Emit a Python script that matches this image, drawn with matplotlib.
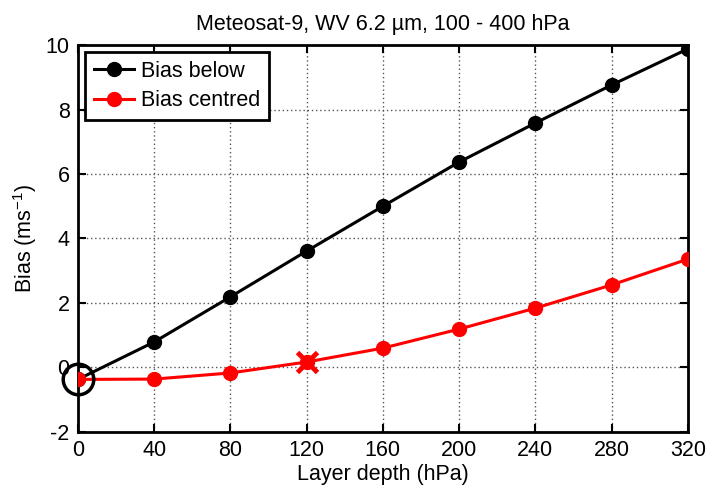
import matplotlib
matplotlib.use("Agg")
import matplotlib.pyplot as plt

plt.rcParams['font.family'] = ['Liberation Sans', 'DejaVu Sans']
plt.rcParams['mathtext.fontset'] = 'custom'
plt.rcParams['mathtext.rm'] = 'Liberation Sans'
plt.rcParams['axes.unicode_minus'] = False

# layer depth (hPa) and wind bias (m/s)
depth = [0, 40, 80, 120, 160, 200, 240, 280, 320]
bias_below = [-0.37, 0.79, 2.19, 3.61, 5.0, 6.37, 7.58, 8.76, 9.88]
bias_centred = [-0.37, -0.36, -0.17, 0.17, 0.6, 1.19, 1.84, 2.56, 3.36]
best_idx = 3  # centred layer of 120 hPa marked with a cross

fs = 15.5

fig = plt.figure(figsize=(7.21, 4.92), dpi=100)
ax = fig.add_axes([0.108, 0.122, 0.846, 0.7865])

ax.plot(depth, bias_below, '-o', color='black', lw=2.2, ms=10, label='Bias below', zorder=3)
ax.plot(depth, bias_centred, '-o', color='red', lw=2.2, ms=10, label='Bias centred', zorder=3)
ax.plot(depth[best_idx], bias_centred[best_idx], 'x', color='red', ms=15, mew=3.5, zorder=4)
ax.plot(depth[0], bias_below[0], 'o', mfc='none', mec='black', ms=22, mew=2.5, zorder=5, clip_on=False)

ax.set_xlim(0, 320)
ax.set_ylim(-2, 10)
ax.set_xticks(depth)
ax.set_yticks(range(-2, 11, 2))
ax.grid(True, linestyle=(0, (1, 2)), color='#555555', lw=1)
ax.tick_params(direction='in', length=6, width=1.5, labelsize=fs, top=True, right=True,
               pad=6)
for s in ax.spines.values():
    s.set_linewidth(2)

ax.set_xlabel('Layer depth (hPa)', fontsize=fs, labelpad=2)
ax.set_ylabel('Bias (ms$^{-1}$)', fontsize=fs, labelpad=5)
ax.set_title('Meteosat-9, WV 6.2 µm, 100 - 400 hPa', fontsize=fs, pad=11)

leg = ax.legend(loc='upper left', bbox_to_anchor=(0, 1), fontsize=fs, fancybox=False,
                framealpha=1, edgecolor='black', borderpad=0.4, handlelength=1.9,
                handletextpad=0.3, labelspacing=0.4, borderaxespad=0.33)
leg.get_frame().set_linewidth(2)

fig.savefig('out.png', dpi=100)
